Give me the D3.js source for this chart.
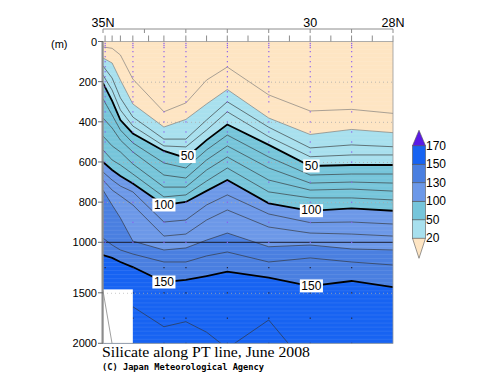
<!DOCTYPE html>
<html><head><meta charset="utf-8">
<script src="https://cdn.jsdelivr.net/npm/d3@7"></script>
<style>body{margin:0;background:#fff}svg{display:block}</style>
</head><body>
<svg id="c" width="500" height="387"></svg>
<script>
// ---------- DATA ----------
const gridLats = [35.0, 34.78, 34.58, 34.28, 33.53, 33.0, 32.5, 32.0, 31.0, 30.0, 29.0, 28.0];
// depth (m) of each silicate contour at gridLats
const c10  = [27, 34, 67, 187, 350, 306, 192, 127, 266, 346, 338, 358];
const c20  = [82, 107, 192, 311, 426, 388, 311, 239, 381, 463, 438, 454];
const c30  = [122, 182, 281, 376, 486, 486, 391, 300, 427, 530, 515, 524];
const c40  = [167, 242, 341, 421, 520, 525, 441, 350, 474, 574, 565, 565];
const c50  = [207, 296, 391, 458, 545, 580, 491, 413, 515, 620, 615, 615];
const c60  = [286, 366, 441, 505, 605, 630, 540, 466, 575, 665, 660, 660];
const c70  = [381, 431, 491, 550, 665, 680, 590, 520, 630, 705, 700, 705];
const c80  = [471, 520, 550, 610, 725, 725, 640, 575, 690, 740, 735, 745];
const c90  = [540, 590, 615, 660, 774, 764, 695, 630, 749, 779, 779, 789];
const c100 = [600, 640, 670, 707, 814, 799, 744, 690, 806, 843, 831, 843];
const c110 = [650, 690, 720, 749, 899, 889, 814, 764, 859, 902, 899, 909];
const c120 = [690, 740, 769, 814, 969, 959, 889, 839, 924, 954, 959, 969];
const c130 = [740, 814, 879, 994, 1076, 1056, 989, 954, 1044, 1027, 1066, 1076];
const c140 = [979, 1027, 1076, 1116, 1195, 1195, 1135, 1096, 1195, 1155, 1195, 1225];
const c150 = [1126, 1155, 1195, 1245, 1393, 1373, 1334, 1291, 1350, 1433, 1383, 1443];
const c160 = [1480, 2006, 2100, 1638, 1836, 1786, 1890, 2050, 1769, 2260, 2400, 2400];

const legendLevels = [20, 50, 100, 130, 150, 170];
const legendColors = ["#a8e0ee", "#76c5da", "#6c98e8", "#4a7fe0", "#1763f2"];
const underColor = "#fee5c3";
const overColor = "#5a1ae6";

const depthTicks = [0, 200, 400, 600, 800, 1000, 1500, 2000];
const gridDepths = [200, 400, 600, 800, 1500];
const latLabels = [{lat: 35, text: "35N"}, {lat: 30, text: "30"}, {lat: 28, text: "28N"}];
const majorLatTicks = [35, 34, 33, 32, 31, 30, 29, 28];
const stationTickLats = [34.95, 34.78, 34.58, 34.28, 33.9, 33.53, 33.0, 32.5, 32.0, 31.5, 31.0, 30.5, 30.0, 29.5, 29.0, 28.5, 28.0];
const profileLats = [34.95, 34.28, 33.53, 33.0, 32.0, 31.0, 30.0, 29.0];
const sampleDepths = [0,10,20,30,50,75,100,125,150,175,200,225,250,275,300,350,400,450,500,550,600,700,800,900,1000,1250,1500,1750,2000];
const firstStationBottom = 1466; // sea floor at 35N station
const maskLats = [35.0, 34.28];
const labelSpots = [
  {level: 50, lat: 32.96}, {level: 50, lat: 29.97},
  {level: 100, lat: 33.53}, {level: 100, lat: 29.97},
  {level: 150, lat: 33.53}, {level: 150, lat: 29.97}
];
const fillLevels = [20, 50, 100, 130, 150];

// ---------- BUILD ----------
const contours = [
  [10,c10],[20,c20],[30,c30],[40,c40],[50,c50],[60,c60],[70,c70],[80,c80],
  [90,c90],[100,c100],[110,c110],[120,c120],[130,c130],[140,c140],[150,c150],[160,c160]
].map(([level, depths]) => ({level, pts: gridLats.map((lat, i) => ({lat, depth: depths[i]}))}));
const byLevel = new Map(contours.map(c => [c.level, c]));

const x = d3.scaleLinear().domain([35, 28]).range([103, 393]);
const y = d3.scaleLinear().domain([0, 1000, 2000]).range([41.5, 242.3, 343.3]);

const svg = d3.select("#c");
const font = "'Liberation Sans', Arial, sans-serif";

svg.append("defs").append("clipPath").attr("id", "plot")
  .append("rect").attr("x", x(35)).attr("y", y(0))
  .attr("width", x(28) - x(35)).attr("height", y(2000) - y(0));

const plot = svg.append("g").attr("clip-path", "url(#plot)");

plot.append("rect").attr("x", x(35)).attr("y", y(0))
  .attr("width", x(28) - x(35)).attr("height", y(2000) - y(0))
  .attr("fill", underColor);

const area = d3.area().x(d => x(d.lat)).y0(d => y(d.depth)).y1(y(2000) + 20);
fillLevels.forEach((lv, i) => {
  plot.append("path").datum(byLevel.get(lv).pts)
    .attr("d", area).attr("fill", legendColors[i]);
});

// faint horizontal stripes (interpolation texture)
const stripes = d3.range(0, 1000, 20).concat(d3.range(1000, 2000, 40));
plot.selectAll("line.stripe").data(stripes).join("line")
  .attr("x1", x(35)).attr("x2", x(28)).attr("y1", d => y(d)).attr("y2", d => y(d))
  .attr("stroke", "#fff").attr("stroke-opacity", 0.13).attr("stroke-width", 0.7);

// dotted grid lines
plot.selectAll("line.grid").data(gridDepths).join("line")
  .attr("x1", x(35)).attr("x2", x(28)).attr("y1", d => y(d) + 0.5).attr("y2", d => y(d) + 0.5)
  .attr("stroke", "#aaa").attr("stroke-width", 0.8).attr("stroke-dasharray", "1,3");

const line = d3.line().x(d => x(d.lat)).y(d => y(d.depth));
contours.forEach(c => {
  const thick = c.level % 50 === 0;
  plot.append("path").datum(c.pts).attr("d", line).attr("fill", "none")
    .attr("stroke", c.level <= 20 ? "#777" : (thick ? "#000" : "#333"))
    .attr("stroke-opacity", thick ? 1 : 0.85)
    .attr("stroke-width", thick ? 1.8 : 0.75);
});

// 1000 m line
plot.append("line").attr("x1", x(35)).attr("x2", x(28)).attr("y1", y(1000)).attr("y2", y(1000))
  .attr("stroke", "#1a1a2a").attr("stroke-width", 1);

// station sample dots
profileLats.forEach(lat => {
  plot.selectAll(null).data(sampleDepths).join("rect")
    .attr("x", x(lat) - 0.5).attr("y", d => y(d) - 0.5).attr("width", 1.2).attr("height", 1.2)
    .attr("fill", d => d <= 1000 ? "#8a5cf0" : "#223");
});

// sea floor mask
plot.append("rect").attr("x", x(maskLats[0])).attr("y", y(firstStationBottom))
  .attr("width", x(maskLats[1]) - x(maskLats[0])).attr("height", y(2000) - y(firstStationBottom) + 5)
  .attr("fill", "#fff");
plot.append("line").attr("x1", x(maskLats[0])).attr("x2", x(maskLats[1]))
  .attr("y1", y(1500) + 0.5).attr("y2", y(1500) + 0.5)
  .attr("stroke", "#bbb").attr("stroke-width", 0.8).attr("stroke-dasharray", "1,3");
plot.append("path").datum(byLevel.get(160).pts.slice(0, 2)).attr("d", line)
  .attr("fill", "none").attr("stroke", "#888").attr("stroke-width", 0.8);

// contour labels
function depthAt(pts, lat) {
  for (let i = 0; i < pts.length - 1; i++) {
    const a = pts[i], b = pts[i + 1];
    if (lat <= a.lat && lat >= b.lat) {
      const t = (a.lat - lat) / (a.lat - b.lat);
      return a.depth + t * (b.depth - a.depth);
    }
  }
  return pts[pts.length - 1].depth;
}
labelSpots.forEach(s => {
  const cx = x(s.lat), cy = y(depthAt(byLevel.get(s.level).pts, s.lat));
  const txt = String(s.level);
  const w = txt.length * 6.7 + 3;
  plot.append("rect").attr("x", cx - w / 2).attr("y", cy - 6.5).attr("width", w).attr("height", 13)
    .attr("fill", "#fff");
  plot.append("text").attr("x", cx).attr("y", cy + 0.5).attr("text-anchor", "middle")
    .attr("dominant-baseline", "middle").attr("font-family", font).attr("font-size", 12)
    .attr("fill", "#000").text(txt);
});

// ---------- AXES ----------
const axisCol = "#8c8c8c";
// plot frame
svg.append("rect").attr("x", x(35)).attr("y", y(0)).attr("width", x(28) - x(35))
  .attr("height", y(2000) - y(0)).attr("fill", "none").attr("stroke", "#999").attr("stroke-width", 0.8);
// left axis
svg.append("line").attr("x1", x(35) - 0.5).attr("x2", x(35) - 0.5).attr("y1", y(0)).attr("y2", y(2000))
  .attr("stroke", axisCol).attr("stroke-width", 2);
svg.selectAll("line.lt").data(depthTicks).join("line")
  .attr("x1", x(35) - 5).attr("x2", x(35)).attr("y1", d => y(d)).attr("y2", d => y(d))
  .attr("stroke", "#666").attr("stroke-width", 1);
svg.selectAll("text.ll").data(depthTicks).join("text")
  .attr("x", 97).attr("y", d => y(d)).attr("text-anchor", "end").attr("dominant-baseline", "central")
  .attr("font-family", font).attr("font-size", 11).attr("fill", "#000").text(d => d);
svg.append("text").attr("x", 51).attr("y", 44).attr("dominant-baseline", "central")
  .attr("font-family", font).attr("font-size", 11).attr("fill", "#000").text("(m)");

// top axis
svg.append("line").attr("x1", x(35)).attr("x2", x(28)).attr("y1", 29).attr("y2", 29)
  .attr("stroke", axisCol).attr("stroke-width", 1);
svg.selectAll("line.mt").data(majorLatTicks).join("line")
  .attr("x1", d => x(d)).attr("x2", d => x(d)).attr("y1", 29).attr("y2", 33)
  .attr("stroke", axisCol).attr("stroke-width", 1);
svg.selectAll("line.st").data(stationTickLats).join("line")
  .attr("x1", d => x(d)).attr("x2", d => x(d)).attr("y1", 35.5).attr("y2", y(0))
  .attr("stroke", axisCol).attr("stroke-width", 1);
svg.selectAll("text.tl").data(latLabels).join("text")
  .attr("x", d => x(d.lat)).attr("y", 27).attr("text-anchor", "middle")
  .attr("font-family", font).attr("font-size", 12.5).attr("fill", "#000").text(d => d.text);

// ---------- LEGEND ----------
const ly = d3.scaleLinear().domain([0, legendLevels.length - 1]).range([238.3, 145.7]);
const lx0 = 412.5, lx1 = 425.5, lxm = (lx0 + lx1) / 2;
const lg = svg.append("g");
legendColors.forEach((col, i) => {
  lg.append("rect").attr("x", lx0).attr("y", ly(i + 1)).attr("width", lx1 - lx0)
    .attr("height", ly(i) - ly(i + 1)).attr("fill", col).attr("stroke", "#555").attr("stroke-width", 0.6);
});
lg.append("path").attr("d", `M${lx0},${ly(legendLevels.length - 1)}L${lxm},${ly(legendLevels.length - 1) - 15.5}L${lx1},${ly(legendLevels.length - 1)}Z`)
  .attr("fill", overColor).attr("stroke", "#555").attr("stroke-width", 0.6);
lg.append("path").attr("d", `M${lx0},${ly(0)}L${lxm},${ly(0) + 20}L${lx1},${ly(0)}Z`)
  .attr("fill", underColor).attr("stroke", "#555").attr("stroke-width", 0.6);
lg.selectAll("text").data(legendLevels).join("text")
  .attr("x", 426).attr("y", (d, i) => ly(i)).attr("dominant-baseline", "central")
  .attr("font-family", font).attr("font-size", 12).attr("fill", "#000").text(d => d);

// ---------- TITLES ----------
svg.append("text").attr("x", 102).attr("y", 357).attr("font-family", "'Liberation Serif', 'DejaVu Serif', serif")
  .attr("font-size", 14).attr("textLength", 208).attr("lengthAdjust", "spacingAndGlyphs")
  .attr("fill", "#000").text("Silicate along PT line, June 2008");
svg.append("text").attr("x", 102).attr("y", 370).attr("font-family", "'DejaVu Sans Mono', monospace")
  .attr("font-size", 9.5).attr("font-weight", "bold").attr("textLength", 162).attr("lengthAdjust", "spacingAndGlyphs")
  .attr("fill", "#000").text("(C) Japan Meteorological Agency");
</script>
</body></html>
